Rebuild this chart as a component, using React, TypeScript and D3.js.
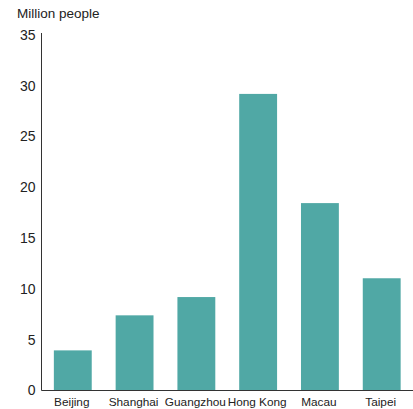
import React from "react";
import * as d3 from "d3";

const cities = ["Beijing", "Shanghai", "Guangzhou", "Hong Kong", "Macau", "Taipei"];
const values = [3.95, 7.4, 9.2, 29.2, 18.45, 11.05];
const yTicks = [0, 5, 10, 15, 20, 25, 30, 35];
const yLabel = "Million people";

const W = 413;
const H = 409;
const left = 41.5;
const right = 413;
const top = 35;
const bottom = 390.5;
const font = "'Liberation Sans', Arial, Helvetica, sans-serif";

export default function App() {
  const x = d3.scaleBand<string>().domain(cities).range([left, right]).paddingInner(0.387).paddingOuter(0.2);
  const y = d3.scaleLinear().domain([0, 35]).range([bottom, top]);
  return (
    <svg width={W} height={H} style={{ position: "absolute", left: 0, top: 0, background: "#fff" }}>
      <text x={17} y={18} fontFamily={font} fontSize={13.5} fill="#222">{yLabel}</text>
      {cities.map((c, i) => (
        <rect key={c} x={x(c)!} y={y(values[i])} width={x.bandwidth()} height={bottom - y(values[i])} fill="#50A8A5" />
      ))}
      {yTicks.map((t) => (
        <text key={t} x={35.5} y={y(t)} dy="0.35em" textAnchor="end" fontFamily={font} fontSize={14} fill="#222">{t}</text>
      ))}
      <line x1={left} x2={left} y1={33} y2={bottom} stroke="#333" strokeWidth={1} />
      <line x1={left} x2={right} y1={bottom} y2={bottom} stroke="#333" strokeWidth={1} />
      {cities.map((c) => (
        <text key={c} x={x(c)! + x.bandwidth() / 2 - 1} y={405.5} textAnchor="middle" fontFamily={font} fontSize={11.8} fill="#222">{c}</text>
      ))}
    </svg>
  );
}
